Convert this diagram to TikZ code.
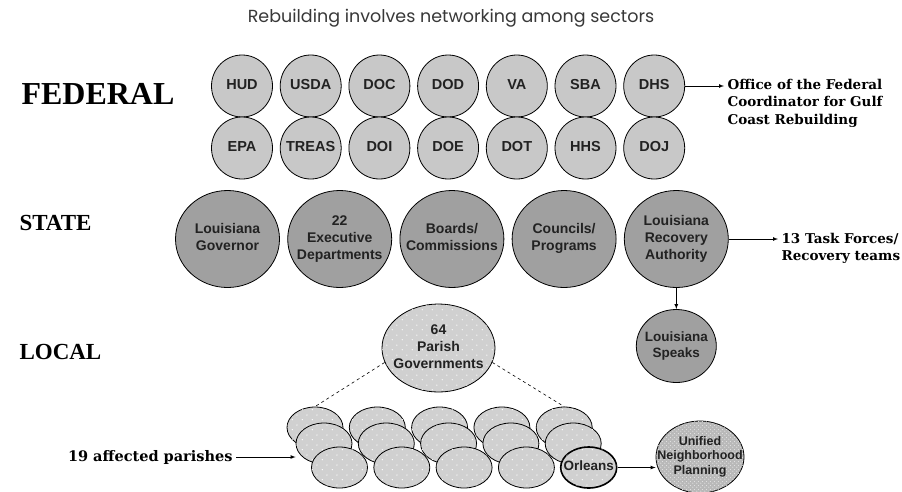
\documentclass[tikz,border=0pt]{standalone}
\usepackage{fontspec}
\setmainfont{Liberation Serif}
\setsansfont{Liberation Sans}
\newfontfamily\headfont{Poppins}
\newfontfamily\notefont{DejaVu Serif}
\usetikzlibrary{arrows,shapes.geometric,patterns.meta}

\definecolor{fedgray}{RGB}{200,200,200}
\definecolor{stategray}{RGB}{160,160,160}
\definecolor{parishgray}{RGB}{208,208,208}
\definecolor{planninggray}{RGB}{185,185,185}
\definecolor{inkgray}{RGB}{34,34,34}

\tikzdeclarepattern{
  name=sparsedots,
  type=uncolored,
  bounding box={(0pt,0pt) and (10pt,10pt)},
  tile size={(10pt,10pt)},
  code={\fill (2.5pt,2.5pt) circle (0.7pt); \fill (7.5pt,7.5pt) circle (0.7pt);}
}
\tikzdeclarepattern{
  name=densedots,
  type=uncolored,
  bounding box={(0pt,0pt) and (4pt,4pt)},
  tile size={(4pt,4pt)},
  code={\fill (1pt,1pt) circle (0.7pt); \fill (3pt,3pt) circle (0.7pt);}
}

\newcommand{\ballt}[1]{\makebox[0pt]{\begin{tabular}{@{}c@{}}#1\end{tabular}}}

\begin{document}
\begin{tikzpicture}[x=1pt,y=-1pt,
    ball/.style={ellipse,draw,line width=0.8pt,inner sep=0pt,text=inkgray},
    fedball/.style={ball,fill=fedgray,minimum width=61pt,minimum height=62pt,
      font=\sffamily\bfseries\fontsize{14.5}{17}\selectfont},
    stateball/.style={ball,fill=stategray,minimum width=104pt,minimum height=97pt,
      font=\sffamily\bfseries\fontsize{14}{17}\selectfont},
    parish/.style={ball,fill=parishgray,minimum width=56pt,minimum height=41pt,
      postaction={pattern=sparsedots,pattern color=white},
      font=\sffamily\bfseries\fontsize{13.5}{16}\selectfont},
    tier/.style={anchor=west,font=\bfseries\fontsize{23}{26}\selectfont},
    note/.style={anchor=west,align=left,font=\notefont\bfseries\fontsize{13.5}{17.5}\selectfont},
    link/.style={-latex,line width=0.7pt}]
  \useasboundingbox (0,0) rectangle (902,491);

  \node (title) at (451,18) {\headfont\fontsize{17.5}{20}\selectfont\color{inkgray!90}Rebuilding involves networking among sectors};

  \node[tier,font=\bfseries\fontsize{32}{36}\selectfont] (federal) at (18,94) {FEDERAL};
  \node[tier] (state) at (16,223) {STATE};
  \node[tier] (local) at (16,352) {LOCAL};

  \foreach \n/\t [count=\i from 0] in {hud/HUD,usda/USDA,doc/DOC,dod/DOD,va/VA,sba/SBA,dhs/DHS}
    \node[fedball] (\n) at (242+68.7*\i,86) {\ballt{\t}};
  \foreach \n/\t [count=\i from 0] in {epa/EPA,treas/TREAS,doi/DOI,doe/DOE,dot/DOT,hhs/HHS,doj/DOJ}
    \node[fedball] (\n) at (242+68.7*\i,148) {\ballt{\t}};

  \node[note] (office) at (724,103) {Office of the Federal\\Coordinator for Gulf\\Coast Rebuilding};
  \draw[link] (dhs) -- (dhs -| office.west);

  \node[stateball] (gov) at (227.5,239) {\ballt{Louisiana\\Governor}};
  \node[stateball] (exec) at (339.7,239) {\ballt{22\\Executive\\Departments}};
  \node[stateball] (boards) at (451.9,239) {\ballt{Boards/\\Commissions}};
  \node[stateball] (councils) at (564.1,239) {\ballt{Councils/\\Programs}};
  \node[stateball] (lra) at (676.3,239) {\ballt{Louisiana\\Recovery\\Authority}};

  \node[note] (tasks) at (778,248.5) {13 Task Forces/\\Recovery teams};
  \draw[link] (lra) -- (lra -| tasks.west);

  \node[ball,fill=stategray,minimum width=80pt,minimum height=73pt,
    font=\sffamily\bfseries\fontsize{13.5}{16}\selectfont] (speaks) at (676.3,346) {\ballt{Louisiana\\Speaks}};
  \draw[link] (lra) -- (speaks);

  \node[parish,minimum width=113pt,minimum height=88pt,
    font=\sffamily\bfseries\fontsize{14}{17}\selectfont] (pg) at (438.5,348) {\ballt{64\\Parish\\Governments}};

  \foreach \i in {1,...,5}
    \node[parish] (pA\i) at (315+62.3*\i-62.3,427.5) {};
  \foreach \i in {1,...,5}
    \node[parish] (pB\i) at (324+62.3*\i-62.3,443.5) {};
  \foreach \i in {1,...,4}
    \node[parish] (pC\i) at (339.5+62.3*\i-62.3,467.5) {};
  \node[parish,line width=1.6pt] (orleans) at (588.7,467.5) {\ballt{Orleans}};

  \draw[dashed,line width=0.6pt] (pg.195) -- (pA1.north);
  \draw[dashed,line width=0.6pt] (pg.-15) -- (pA5.north);

  \node[ball,fill=planninggray,minimum width=88pt,minimum height=72pt,
    postaction={pattern=densedots,pattern color=white!90!black},
    font=\sffamily\bfseries\fontsize{12.5}{14.5}\selectfont] (unp) at (700,457) {\ballt{Unified\\Neighborhood\\Planning}};
  \draw[link] (orleans) -- (orleans -| unp.west);

  \node[note,anchor=east,font=\notefont\bfseries\fontsize{14.5}{17}\selectfont] (affected) at (236,457) {19 affected parishes};
  \draw[link] (affected) -- (affected -| pB1.west);
\end{tikzpicture}
\end{document}
